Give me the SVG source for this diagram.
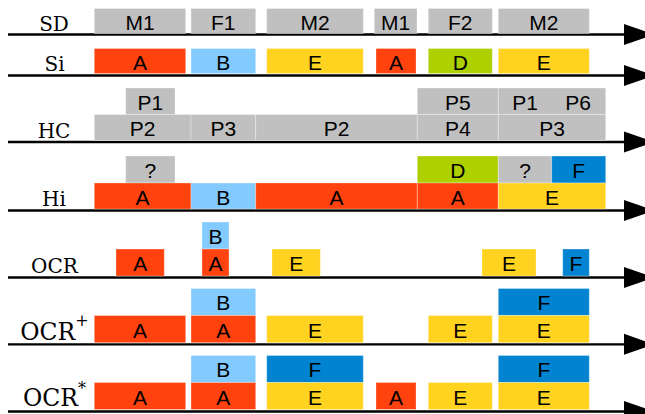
<svg xmlns="http://www.w3.org/2000/svg" width="645" height="414" viewBox="0 0 645 414">
<defs>
<style>
rect{stroke:#fff;stroke-opacity:.3;stroke-width:1}
.g{fill:#c0c0c0}.a{fill:#ff420e}.b{fill:#83caff}.e{fill:#ffd320}.d{fill:#aecf00}.f{fill:#0084d1}
.t{font-family:"Liberation Sans",Arial,sans-serif;font-size:21px;fill:#000;text-anchor:middle}
.l{font-family:"DejaVu Serif",serif;font-size:20px;fill:#000;text-anchor:middle}
.axis line{stroke:#000;stroke-width:2.3}
.axis polygon{fill:#000}
</style>
</defs>
<rect x="0" y="0" width="645" height="414" style="fill:#fff;stroke:none"/>
<g class="axis" id="connectors">
<line x1="8" y1="34.5" x2="630" y2="34.5"/><polygon points="624,24 654,34.5 624,45"/>
<line x1="8" y1="75.5" x2="630" y2="75.5"/><polygon points="624,65 654,75.5 624,86"/>
<line x1="8" y1="142" x2="630" y2="142"/><polygon points="624,131.5 654,142 624,152.5"/>
<line x1="8" y1="210.5" x2="630" y2="210.5"/><polygon points="624,200 654,210.5 624,221"/>
<line x1="8" y1="277.5" x2="630" y2="277.5"/><polygon points="624,267 654,277.5 624,288"/>
<line x1="8" y1="344.3" x2="630" y2="344.3"/><polygon points="624,333.8 654,344.3 624,354.8"/>
<line x1="8" y1="411.5" x2="630" y2="411.5"/><polygon points="624,401 654,411.5 624,422"/>
</g>
<g id="labels">
<text class="l" x="54" y="31">SD</text>
<text class="l" x="54.5" y="70.5">Si</text>
<text class="l" x="54" y="138">HC</text>
<text class="l" x="54" y="206">Hi</text>
<text class="l" x="54.5" y="272.5">OCR</text>
<text class="l" x="54.5" y="339.5" style="font-size:23.5px">OCR<tspan dy="-14" style="font-size:16px">+</tspan></text>
<text class="l" x="54.5" y="405.5" style="font-size:23.5px">OCR<tspan dy="-12" style="font-size:16px">*</tspan></text>
</g>
<g id="sd-m1"><rect class="g" x="94.3" y="8.5" width="91.4" height="25"/><text class="t" x="140" y="30">M1</text></g>
<g id="sd-f1"><rect class="g" x="191" y="8.5" width="64.7" height="25"/><text class="t" x="223.3" y="30">F1</text></g>
<g id="sd-m2"><rect class="g" x="266.7" y="8.5" width="96.6" height="25"/><text class="t" x="315" y="30">M2</text></g>
<g id="sd-m1b"><rect class="g" x="374.3" y="8.5" width="42.7" height="25"/><text class="t" x="395.6" y="30">M1</text></g>
<g id="sd-f2"><rect class="g" x="428.3" y="8.5" width="64" height="25"/><text class="t" x="460.3" y="30">F2</text></g>
<g id="sd-m2b"><rect class="g" x="498.3" y="8.5" width="91" height="25"/><text class="t" x="543.8" y="30">M2</text></g>
<g id="si-a"><rect class="a" x="94.3" y="48.5" width="91.4" height="25"/><text class="t" x="140" y="69.5">A</text></g>
<g id="si-b"><rect class="b" x="191" y="48.5" width="64.7" height="25"/><text class="t" x="223.3" y="69.5">B</text></g>
<g id="si-e"><rect class="e" x="266.7" y="48.5" width="96.6" height="25"/><text class="t" x="315" y="69.5">E</text></g>
<g id="si-a2"><rect class="a" x="376" y="48.5" width="40" height="25"/><text class="t" x="396" y="69.5">A</text></g>
<g id="si-d"><rect class="d" x="428.3" y="48.5" width="64" height="25"/><text class="t" x="460.3" y="69.5">D</text></g>
<g id="si-e2"><rect class="e" x="498.3" y="48.5" width="91" height="25"/><text class="t" x="543.8" y="69.5">E</text></g>
<g id="hc-p1"><rect class="g" x="125.7" y="88" width="49.3" height="26.5"/><text class="t" x="150.3" y="109.5">P1</text></g>
<g id="hc-p5"><rect class="g" x="417.3" y="88" width="81" height="26.5"/><text class="t" x="457.8" y="109.5">P5</text></g>
<g id="hc-p1p6"><rect class="g" x="498.3" y="88" width="107.4" height="26.5"/><text class="t" x="525" y="109.5">P1</text><text class="t" x="578" y="109.5">P6</text></g>
<g id="hc-p2"><rect class="g" x="94.3" y="114.5" width="96.7" height="26"/><text class="t" x="142.6" y="136">P2</text></g>
<g id="hc-p3"><rect class="g" x="191" y="114.5" width="64.7" height="26"/><text class="t" x="223.3" y="136">P3</text></g>
<g id="hc-p2b"><rect class="g" x="255.7" y="114.5" width="161.6" height="26"/><text class="t" x="336.5" y="136">P2</text></g>
<g id="hc-p4"><rect class="g" x="417.3" y="114.5" width="81" height="26"/><text class="t" x="457.8" y="136">P4</text></g>
<g id="hc-p3b"><rect class="g" x="498.3" y="114.5" width="107.4" height="26"/><text class="t" x="552" y="136">P3</text></g>
<g id="hi-q1"><rect class="g" x="125.7" y="156" width="49.3" height="27"/><text class="t" x="150.3" y="177.5">?</text></g>
<g id="hi-d"><rect class="d" x="417.3" y="156" width="81" height="27"/><text class="t" x="457.8" y="177.5">D</text></g>
<g id="hi-q2"><rect class="g" x="498.3" y="156" width="53.4" height="27"/><text class="t" x="525" y="177.5">?</text></g>
<g id="hi-f"><rect class="f" x="551.7" y="156" width="54" height="27"/><text class="t" x="578.7" y="177.5">F</text></g>
<g id="hi-a"><rect class="a" x="94.3" y="183" width="96.7" height="26"/><text class="t" x="142.6" y="204.5">A</text></g>
<g id="hi-b"><rect class="b" x="191" y="183" width="64.7" height="26"/><text class="t" x="223.3" y="204.5">B</text></g>
<g id="hi-a2"><rect class="a" x="255.7" y="183" width="161.6" height="26"/><text class="t" x="336.5" y="204.5">A</text></g>
<g id="hi-a3"><rect class="a" x="417.3" y="183" width="81" height="26"/><text class="t" x="457.8" y="204.5">A</text></g>
<g id="hi-e"><rect class="e" x="498.3" y="183" width="107.4" height="26"/><text class="t" x="552" y="204.5">E</text></g>
<g id="ocr-b"><rect class="b" x="202" y="222" width="27" height="27"/><text class="t" x="215.5" y="243.5">B</text></g>
<g id="ocr-a"><rect class="a" x="116" y="249" width="48.3" height="27"/><text class="t" x="140.2" y="271">A</text></g>
<g id="ocr-a2"><rect class="a" x="202" y="249" width="27" height="27"/><text class="t" x="215.5" y="271">A</text></g>
<g id="ocr-e"><rect class="e" x="272" y="249" width="48.3" height="27"/><text class="t" x="296.2" y="271">E</text></g>
<g id="ocr-e2"><rect class="e" x="482" y="249" width="54" height="27"/><text class="t" x="509" y="271">E</text></g>
<g id="ocr-f"><rect class="f" x="562.7" y="249" width="26.6" height="27"/><text class="t" x="576" y="271">F</text></g>
<g id="ocrp-b"><rect class="b" x="191" y="288.5" width="64.7" height="27"/><text class="t" x="223.3" y="310">B</text></g>
<g id="ocrp-f"><rect class="f" x="498.3" y="288.5" width="91" height="27"/><text class="t" x="543.8" y="310">F</text></g>
<g id="ocrp-a"><rect class="a" x="94.3" y="315.5" width="91.4" height="27.2"/><text class="t" x="140" y="338">A</text></g>
<g id="ocrp-a2"><rect class="a" x="191" y="315.5" width="64.7" height="27.2"/><text class="t" x="223.3" y="338">A</text></g>
<g id="ocrp-e"><rect class="e" x="266.7" y="315.5" width="96.6" height="27.2"/><text class="t" x="315" y="338">E</text></g>
<g id="ocrp-e2"><rect class="e" x="428.3" y="315.5" width="64" height="27.2"/><text class="t" x="460.3" y="338">E</text></g>
<g id="ocrp-e3"><rect class="e" x="498.3" y="315.5" width="91" height="27.2"/><text class="t" x="543.8" y="338">E</text></g>
<g id="ocrs-b"><rect class="b" x="191" y="355.5" width="64.7" height="27"/><text class="t" x="223.3" y="377">B</text></g>
<g id="ocrs-f"><rect class="f" x="266.7" y="355.5" width="96.6" height="27"/><text class="t" x="315" y="377">F</text></g>
<g id="ocrs-f2"><rect class="f" x="498.3" y="355.5" width="91" height="27"/><text class="t" x="543.8" y="377">F</text></g>
<g id="ocrs-a"><rect class="a" x="94.3" y="382.5" width="91.4" height="27"/><text class="t" x="140" y="405">A</text></g>
<g id="ocrs-a2"><rect class="a" x="191" y="382.5" width="64.7" height="27"/><text class="t" x="223.3" y="405">A</text></g>
<g id="ocrs-e"><rect class="e" x="266.7" y="382.5" width="96.6" height="27"/><text class="t" x="315" y="405">E</text></g>
<g id="ocrs-a3"><rect class="a" x="376" y="382.5" width="40" height="27"/><text class="t" x="396" y="405">A</text></g>
<g id="ocrs-e2"><rect class="e" x="428.3" y="382.5" width="64" height="27"/><text class="t" x="460.3" y="405">E</text></g>
<g id="ocrs-e3"><rect class="e" x="498.3" y="382.5" width="91" height="27"/><text class="t" x="543.8" y="405">E</text></g>
</svg>
